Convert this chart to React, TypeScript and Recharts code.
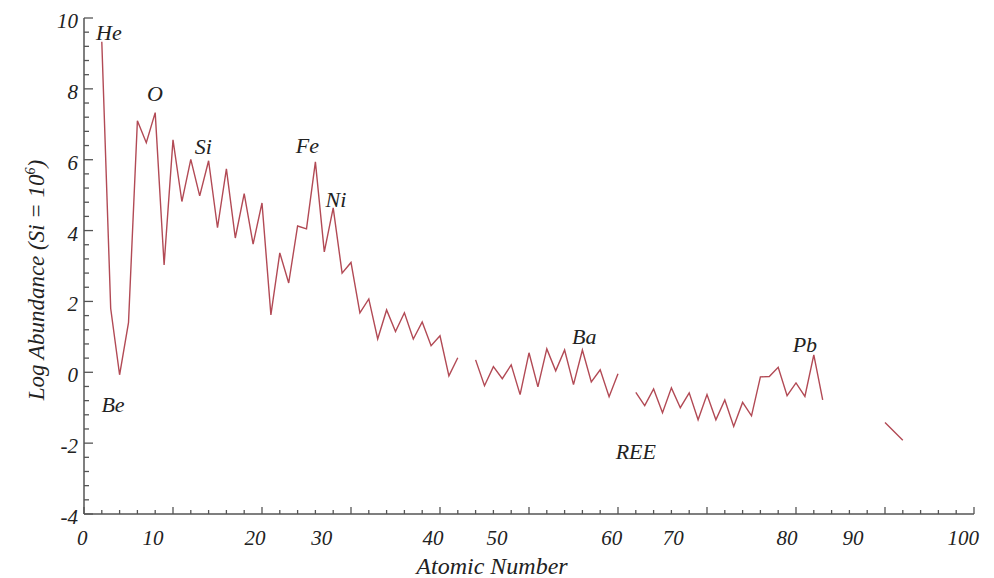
import React from 'react';
import { LineChart, Line, XAxis, YAxis, ReferenceDot, Label } from 'recharts';

// Atomic numbers 2..92 (Th and U are joined directly in the figure)
const atomicNumbers: number[] = [
  2, 3, 4, 5, 6, 7, 8, 9, 10, 11, 12, 13, 14, 15, 16, 17, 18, 19, 20, 21,
  22, 23, 24, 25, 26, 27, 28, 29, 30, 31, 32, 33, 34, 35, 36, 37, 38, 39, 40, 41,
  42, 43, 44, 45, 46, 47, 48, 49, 50, 51, 52, 53, 54, 55, 56, 57, 58, 59, 60, 61,
  62, 63, 64, 65, 66, 67, 68, 69, 70, 71, 72, 73, 74, 75, 76, 77, 78, 79, 80, 81,
  82, 83, 84, 85, 86, 87, 88, 89, 90, 92,
];

// Log abundance (Si = 10^6); null = gap in the curve
const logAbundance: (number | null)[] = [
  9.33, 1.8, -0.07, 1.4, 7.1, 6.48, 7.33, 3.03, 6.56, 4.82, 6.01, 4.98, 5.97, 4.08, 5.74, 3.79, 5.04, 3.62, 4.78, 1.62,
  3.37, 2.52, 4.13, 4.05, 5.94, 3.4, 4.64, 2.8, 3.1, 1.68, 2.07, 0.94, 1.76, 1.15, 1.68, 0.94, 1.42, 0.75, 1.03, -0.1,
  0.41, null, 0.35, -0.38, 0.16, -0.18, 0.21, -0.63, 0.55, -0.41, 0.66, 0.04, 0.63, -0.35, 0.63, -0.27, 0.07, -0.69, -0.04, null,
  -0.57, -0.94, -0.47, -1.14, -0.44, -1.0, -0.58, -1.34, -0.63, -1.34, -0.78, -1.53, -0.85, -1.23, -0.13, -0.12, 0.14, -0.66, -0.3, -0.68,
  0.49, -0.78, null, null, null, null, null, null, -1.42, -1.92,
];

// Tick marks
const xTickMarks: number[] = Array.from({ length: 51 }, (_, i) => i * 2);
const yTickMarks: number[] = Array.from({ length: 36 }, (_, i) => Math.round((-4 + i * 0.4) * 10) / 10);

// X tick labels as printed in the figure, with where they sit along the axis
const xLabelTexts: string[] = ['0', '10', '20', '30', '40', '50', '60', '70', '80', '90', '100'];
const xLabelAt: number[] = [-0.2, 7.75, 19.2, 26.7, 39.2, 46.4, 59.3, 66.2, 79.0, 86.4, 98.8];

// Element annotations
const noteTexts: string[] = ['He', 'O', 'Si', 'Fe', 'Ni', 'Be', 'Ba', 'REE', 'Pb'];
const noteZ: number[] = [2.8, 7.98, 13.4, 25.1, 28.3, 3.26, 56.2, 62.0, 81.0];
const noteLog: number[] = [9.58, 7.86, 6.36, 6.4, 4.86, -0.92, 1.0, -2.26, 0.78];

const data = atomicNumbers.map((z, i) => ({ z, v: logAbundance[i] }));

const FONT = '"Liberation Serif", "DejaVu Serif", serif';
const AXIS = '#555';
const LINE = '#b24a55';

const XMarkTick = (props: any) => {
  const { x, y, payload } = props;
  const major = payload.value % 10 === 0;
  return <line x1={x} y1={y} x2={x} y2={y - (major ? 7 : 4)} stroke={AXIS} strokeWidth={1.3} />;
};

const XLabelTick = (props: any) => {
  const { x, y, index } = props;
  return (
    <text x={x} y={y + 30} textAnchor="middle" fontFamily={FONT} fontStyle="italic" fontSize={21} fill="#222">
      {xLabelTexts[index]}
    </text>
  );
};

const YTick = (props: any) => {
  const { x, y, payload } = props;
  const v = payload.value;
  const r = Math.round(v);
  const major = Math.abs(v - r) < 1e-6 && r % 2 === 0;
  return (
    <g>
      <line x1={x} y1={y} x2={x + (major ? 9 : 5)} y2={y} stroke={AXIS} strokeWidth={1.3} />
      {major && (
        <text x={x - 6} y={y + 10} textAnchor="end" fontFamily={FONT} fontStyle="italic" fontSize={21} fill="#222">
          {r}
        </text>
      )}
    </g>
  );
};

export default function App() {
  return (
    <div style={{ position: 'absolute', left: 0, top: 0, width: 994, height: 578, background: '#fff' }}>
      <LineChart width={994} height={578} data={data} margin={{ top: 18, right: 20, bottom: 0, left: 0 }}>
        <XAxis
          dataKey="z"
          type="number"
          domain={[0, 100]}
          allowDataOverflow
          ticks={xTickMarks}
          interval={0}
          tickSize={0}
          tickMargin={0}
          height={1}
          tick={<XMarkTick />}
          axisLine={{ stroke: AXIS, strokeWidth: 1.5 }}
          tickLine={false}
        />
        <XAxis
          xAxisId="lab"
          dataKey="z"
          type="number"
          domain={[0, 100]}
          allowDataOverflow
          ticks={xLabelAt}
          interval={0}
          tickSize={0}
          tickMargin={0}
          height={63}
          axisLine={false}
          tickLine={false}
          tick={<XLabelTick />}
        >
          <Label
            content={() => (
              <text x={492} y={574} textAnchor="middle" fontFamily={FONT} fontStyle="italic" fontSize={24} fill="#222">
                Atomic Number
              </text>
            )}
          />
        </XAxis>
        <YAxis
          type="number"
          domain={[-4, 10]}
          allowDataOverflow
          ticks={yTickMarks}
          interval={0}
          width={84}
          tickSize={0}
          tickMargin={0}
          tick={<YTick />}
          axisLine={{ stroke: AXIS, strokeWidth: 1.5 }}
          tickLine={false}
        >
          <Label
            content={() => (
              <text
                x={44}
                y={280}
                transform="rotate(-90 44 280)"
                textAnchor="middle"
                fontFamily={FONT}
                fontStyle="italic"
                fontSize={23}
                fill="#222"
              >
                Log Abundance (Si = 10
                <tspan fontSize={14} dy={-9}>6</tspan>
                <tspan dy={9}>)</tspan>
              </text>
            )}
          />
        </YAxis>
        <Line
          type="linear"
          dataKey="v"
          stroke={LINE}
          strokeWidth={1.4}
          dot={false}
          activeDot={false}
          connectNulls={false}
          isAnimationActive={false}
        />
        {noteTexts.map((t, i) => (
          <ReferenceDot
            key={t}
            x={noteZ[i]}
            y={noteLog[i]}
            r={0}
            shape={(p: any) => (
              <text
                x={p.cx}
                y={p.cy + 7}
                textAnchor="middle"
                fontFamily={FONT}
                fontStyle="italic"
                fontSize={22}
                fill="#222"
              >
                {t}
              </text>
            )}
          />
        ))}
      </LineChart>
    </div>
  );
}
